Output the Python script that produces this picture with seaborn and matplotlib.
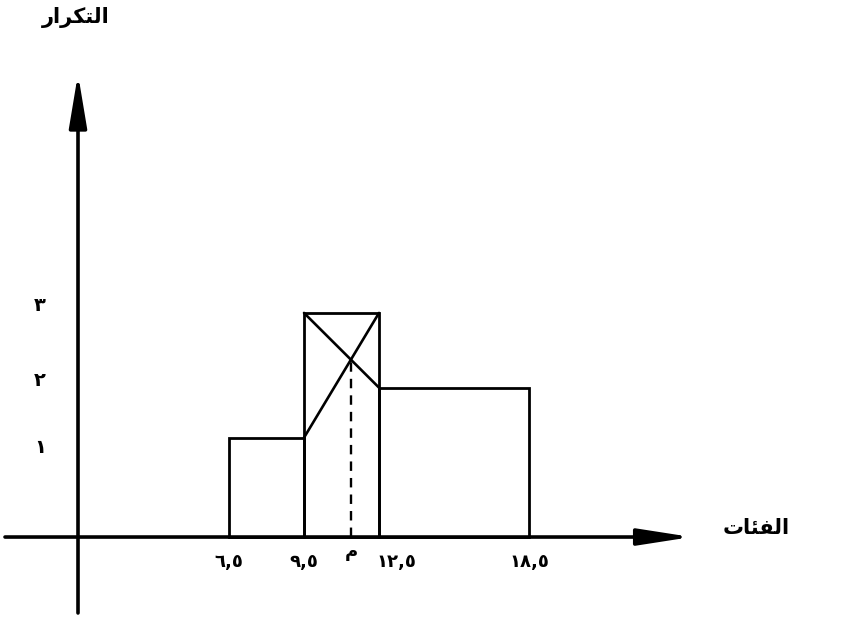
import numpy as np
import matplotlib.pyplot as plt
import seaborn as sns

# Histogram data (class boundaries and frequencies)
class_edges = [6.5, 9.5, 12.5, 18.5]
class_mids = [8.0, 11.0, 15.5]
frequencies = [1.33, 3.0, 2.0]
x_tick_labels = ["٦,٥", "٩,٥", "١٢,٥", "١٨,٥"]
y_ticks = [1.2, 2.1, 3.1]
y_tick_labels = ["١", "٢", "٣"]

# Arabic labels written in shaped presentation forms (visual order)
y_title = "\uFEAD\uFE8D\uFEAE\uFEDC\uFE98\uFEDF\uFE8D"   # التكرار
x_title = "\uFE95\uFE8E\uFE8C\uFED4\uFEDF\uFE8D"          # الفئات
mode_label = "\uFEE1"                                     # م

sns.set_style("white")
plt.rcParams["font.family"] = ["DejaVu Sans"]
plt.rcParams["text.color"] = "black"

fig = plt.figure(figsize=(8.47, 6.18), dpi=100)
ax = fig.add_axes([0, 0, 1, 1])

# bars
sns.histplot(x=class_mids, weights=frequencies, bins=class_edges,
             fill=False, color="black", linewidth=2.0, ax=ax)
ax.set_xlim(-2.66, 31.22)
ax.set_ylim(-1.084, 7.189)
ax.set_axis_off()

# mode construction: diagonals in the modal class
f0, f1, f2 = frequencies
lo, hi = class_edges[1], class_edges[2]
d1, d2 = f1 - f0, f1 - f2
mode = lo + d1 / (d1 + d2) * (hi - lo)
y_cross = f0 + (mode - lo) / (hi - lo) * (f1 - f0)
ax.plot([lo, hi], [f0, f1], color="black", lw=1.9)
ax.plot([lo, hi], [f1, f2], color="black", lw=1.9)
ax.plot([mode, mode], [0, y_cross], color="black", lw=1.7, ls=(0, (4, 3)))

# axes with arrows
y_axis_x = 0.46
ax.annotate("", xy=(25.0, 0), xytext=(-2.46, 0),
            arrowprops=dict(arrowstyle="-|>,head_length=1.8,head_width=0.28",
                            lw=2.6, color="black", shrinkA=0, shrinkB=0,
                            mutation_scale=18))
ax.annotate("", xy=(y_axis_x, 6.2), xytext=(y_axis_x, -1.017),
            arrowprops=dict(arrowstyle="-|>,head_length=1.8,head_width=0.3",
                            lw=2.6, color="black", shrinkA=0, shrinkB=0,
                            mutation_scale=18))

# tick labels
label_shift = [0, 0, 0.7, 0]
for e, lab, s in zip(class_edges, x_tick_labels, label_shift):
    ax.text(e + s, -0.33, lab, ha="center", va="center",
            fontsize=13, fontweight="bold")
ax.text(mode, -0.2, mode_label, ha="center", va="center",
        fontsize=13, fontweight="bold")
for t, lab in zip(y_ticks, y_tick_labels):
    ax.text(-1.06, t, lab, ha="center", va="center",
            fontsize=14, fontweight="bold")

# axis titles
ax.text(0.38, 6.95, y_title, ha="center", va="center",
        fontsize=15, fontweight="bold")
ax.text(27.6, 0.12, x_title, ha="center", va="center",
        fontsize=15, fontweight="bold")

fig.savefig("out.png", dpi=100)
